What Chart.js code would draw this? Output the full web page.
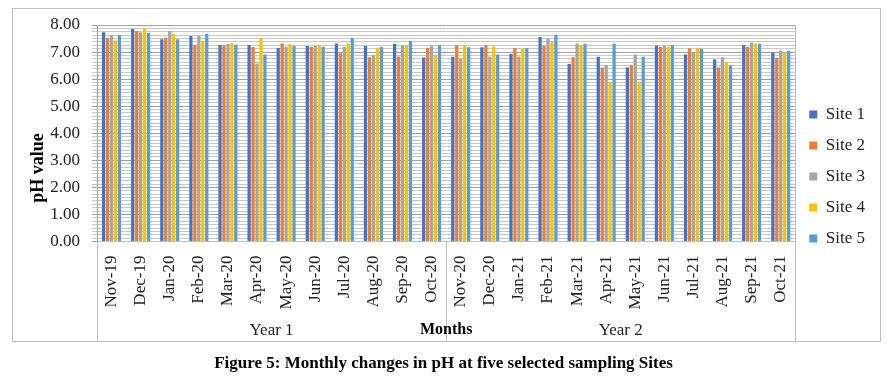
<!DOCTYPE html>
<html lang="en">
<head>
    <meta charset="UTF-8">
    <title>pH Chart</title>
    <script src="https://cdn.jsdelivr.net/npm/chart.js"></script>
    <style>
        body { margin: 0; background: #fff; }
    </style>
</head>
<body>

    <canvas id="phChart" width="893" height="388"></canvas>

    <script>
        const months = ['Nov-19', 'Dec-19', 'Jan-20', 'Feb-20', 'Mar-20', 'Apr-20', 'May-20', 'Jun-20',
            'Jul-20', 'Aug-20', 'Sep-20', 'Oct-20', 'Nov-20', 'Dec-20', 'Jan-21', 'Feb-21',
            'Mar-21', 'Apr-21', 'May-21', 'Jun-21', 'Jul-21', 'Aug-21', 'Sep-21', 'Oct-21'];
        const years = ['Year 1', 'Year 2'];

        const site1 = [7.73, 7.85, 7.47, 7.59, 7.26, 7.26, 7.15, 7.22, 7.32, 7.22, 7.31, 6.80,
            6.83, 7.18, 6.93, 7.56, 6.56, 6.83, 6.43, 7.23, 6.91, 6.73, 7.26, 6.98];
        const site2 = [7.53, 7.78, 7.53, 7.26, 7.25, 7.19, 7.32, 7.19, 6.96, 6.81, 6.84, 7.15,
            7.25, 7.26, 7.15, 7.23, 6.81, 6.43, 6.51, 7.19, 7.14, 6.43, 7.19, 6.79];
        const site3 = [7.63, 7.73, 7.78, 7.59, 7.30, 6.58, 7.19, 7.23, 7.19, 6.89, 7.25, 7.23,
            6.75, 6.84, 6.84, 7.51, 7.32, 6.52, 6.91, 7.23, 6.98, 6.81, 7.35, 7.06];
        const site4 = [7.43, 7.88, 7.67, 7.42, 7.33, 7.53, 7.30, 7.26, 7.32, 7.16, 7.25, 6.90,
            7.22, 7.21, 7.12, 7.38, 7.26, 5.90, 5.90, 7.21, 7.16, 6.62, 7.32, 6.96];
        const site5 = [7.63, 7.70, 7.47, 7.68, 7.27, 6.91, 7.22, 7.19, 7.52, 7.19, 7.41, 7.25,
            7.18, 6.91, 7.15, 7.64, 7.31, 7.32, 6.83, 7.26, 7.12, 6.51, 7.31, 7.05];

        const serif = '"Liberation Serif", "Times New Roman", serif';

        // frame, year groups and axis titles drawn on top of the chart
        const decor = {
            id: 'decor',
            afterLayout(chart) {
                // legend sits a little above the middle of the frame
                chart.legend.top -= 30;
                chart.legend.bottom -= 30;
            },
            afterDraw(chart) {
                const { ctx, chartArea: a, scales: { x } } = chart;
                const bottom = 341;
                const half = (x.getPixelForValue(1) - x.getPixelForValue(0)) / 2;
                const split = x.getPixelForValue(11) + half;
                ctx.save();
                ctx.strokeStyle = '#bfbfbf';
                ctx.lineWidth = 1;
                ctx.strokeRect(12.5, 8.5, 868, bottom - 8);
                ctx.beginPath();
                [a.left, split, a.right].forEach(px => {
                    ctx.moveTo(Math.round(px) + 0.5, a.bottom);
                    ctx.lineTo(Math.round(px) + 0.5, bottom);
                });
                ctx.moveTo(Math.round(a.right) + 0.5, a.top);
                ctx.lineTo(Math.round(a.right) + 0.5, a.bottom);
                ctx.stroke();

                ctx.fillStyle = '#222';
                ctx.textAlign = 'center';
                ctx.textBaseline = 'middle';
                ctx.font = '17px ' + serif;
                ctx.fillText(years[0], (a.left + split) / 2, 331);
                ctx.fillText(years[1], (split + a.right) / 2, 331);
                ctx.font = 'bold 16px ' + serif;
                ctx.fillStyle = '#000';
                ctx.fillText('Months', (a.left + a.right) / 2, 330);

                ctx.translate(38, 168);
                ctx.rotate(-Math.PI / 2);
                ctx.font = 'bold 18px ' + serif;
                ctx.fillText('pH value', 0, 0);
                ctx.restore();
            }
        };

        const ctx = document.getElementById('phChart').getContext('2d');

        new Chart(ctx, {
            type: 'bar',
            data: {
                labels: months,
                datasets: [
                    { label: 'Site 1', data: site1, backgroundColor: '#4472C4' },
                    { label: 'Site 2', data: site2, backgroundColor: '#ED7D31' },
                    { label: 'Site 3', data: site3, backgroundColor: '#A5A5A5' },
                    { label: 'Site 4', data: site4, backgroundColor: '#FFC000' },
                    { label: 'Site 5', data: site5, backgroundColor: '#5B9BD5' }
                ]
            },
            options: {
                responsive: false,
                animation: false,
                categoryPercentage: 0.68,
                barPercentage: 0.82,
                layout: { padding: { left: 12, top: 25, right: 18, bottom: 0 } },
                plugins: {
                    legend: {
                        position: 'right',
                        align: 'center',
                        labels: {
                            boxWidth: 8,
                            boxHeight: 8,
                            padding: 14,
                            color: '#222',
                            font: { family: serif, size: 17 }
                        }
                    },
                    title: {
                        display: true,
                        position: 'bottom',
                        text: 'Figure 5: Monthly changes in pH at five selected sampling Sites',
                        color: '#000',
                        font: { family: serif, size: 17, weight: 'bold' },
                        padding: { top: 11, bottom: 14 }
                    },
                    tooltip: { enabled: false }
                },
                scales: {
                    x: {
                        afterFit: s => { s.height = 101; },
                        grid: { display: false },
                        border: { color: '#bfbfbf' },
                        ticks: {
                            autoSkip: false,
                            maxRotation: 90,
                            minRotation: 90,
                            padding: 6,
                            color: '#222',
                            font: { family: serif, size: 17 }
                        }
                    },
                    y: {
                        min: 0,
                        max: 8,
                        afterFit: s => { s.width = 85; },
                        border: { color: '#a6a6a6' },
                        grid: {
                            color: c => (c.tick && c.tick.value % 1 === 0) ? '#a0a0a0' : '#c8c8c8',
                            tickLength: 5
                        },
                        ticks: {
                            stepSize: 0.125,
                            autoSkip: false,
                            padding: 12,
                            color: '#222',
                            font: { family: serif, size: 17 },
                            callback: v => v % 1 === 0 ? v.toFixed(2) : ''
                        }
                    }
                }
            },
            plugins: [decor]
        });
    </script>

</body>
</html>
